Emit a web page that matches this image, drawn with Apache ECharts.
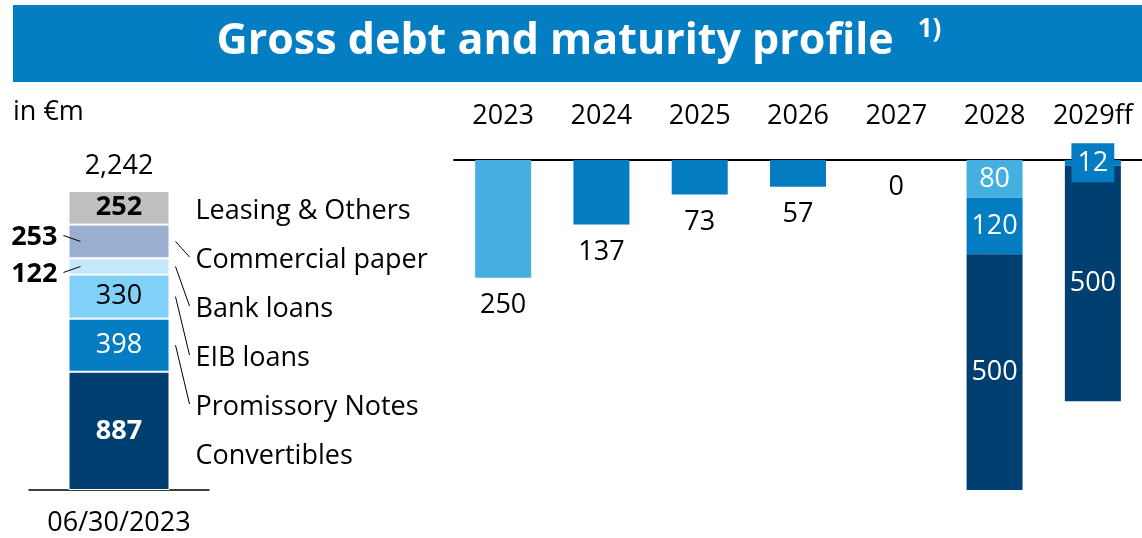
<!DOCTYPE html>
<html>
<head>
<meta charset="utf-8">
<script src="https://cdn.jsdelivr.net/npm/echarts@6/dist/echarts.min.js"></script>
<style>
  html, body { margin: 0; padding: 0; background: #fff; }
  #chart { width: 1142px; height: 538px; }
</style>
</head>
<body>
<div id="chart"></div>
<script>
// Gross debt composition at the reporting date (bottom to top)
const debtDate = ['06/30/2023'];
const segNames = ['Convertibles', 'Promissory Notes', 'EIB loans', 'Bank loans', 'Commercial paper', 'Leasing & Others'];
const segValues = [887, 398, 330, 122, 253, 252];

// Maturity profile by year
const years = ['2023', '2024', '2025', '2026', '2027', '2028', '2029ff'];
const matLight = [250, '-', '-', '-', '-', 80, '-'];
const matBlue = ['-', 137, 73, 57, 0, 120, 12];
const matNavy = ['-', '-', '-', '-', '-', 500, 500];

const FONT = '"Open Sans", Lato, sans-serif';
const FS = 27;
const C_NAVY = '#003f6f';
const C_BLUE = '#037cc1';
const C_SKY = '#45b0e0';

const segColors = [C_NAVY, C_BLUE, '#80d0f8', '#c4e7fb', '#9aaecf', '#bfbfbf'];
const segLabel = [
  { show: true, position: 'inside', color: '#fff', fontWeight: 'bold' },
  { show: true, position: 'inside', color: '#fff' },
  { show: true, position: 'inside', color: '#000' },
  { show: true, position: 'left', distance: 11, offset: [0, 8], color: '#000', fontWeight: 'bold' },
  { show: true, position: 'left', distance: 11, offset: [0, -4], color: '#000', fontWeight: 'bold' },
  { show: true, position: 'inside', color: '#000', fontWeight: 'bold' }
];

const LEFT_W = 101;
const RIGHT_W = 56;

const leftSeries = segValues.map((v, i) => ({
  name: segNames[i],
  type: 'bar',
  stack: 'debt',
  xAxisIndex: 0,
  yAxisIndex: 0,
  barWidth: LEFT_W,
  data: [v],
  itemStyle: { color: segColors[i], borderColor: '#fff', borderWidth: 1 },
  label: Object.assign({ fontFamily: FONT, fontSize: FS }, segLabel[i]),
  silent: true
}));

// labels under single bars sit below in black; labels in stacked columns sit inside in white
function matItems(values, stackedIdx) {
  return values.map((v, i) => {
    if (v === '-') return '-';
    const stacked = stackedIdx.indexOf(i) >= 0;
    return {
      value: v,
      label: stacked
        ? { show: true, position: 'inside', color: '#fff' }
        : { show: true, position: 'bottom', distance: 14, color: '#000' }
    };
  });
}

const blueItems = matItems(matBlue, [5]);
// the small 2029ff tranche gets a boxed label
blueItems[6] = {
  value: matBlue[6],
  label: { show: true, position: 'inside', color: '#fff', backgroundColor: C_BLUE, padding: [7, 6, 5, 6] }
};

const rightSeries = [
  { data: matItems(matLight, [5]), color: C_SKY },
  { data: blueItems, color: C_BLUE },
  { data: matItems(matNavy, [5, 6]), color: C_NAVY }
].map(s => ({
  type: 'bar',
  stack: 'maturity',
  xAxisIndex: 1,
  yAxisIndex: 1,
  barWidth: RIGHT_W,
  data: s.data,
  itemStyle: { color: s.color },
  label: { fontFamily: FONT, fontSize: FS },
  silent: true
}));

const chart = echarts.init(document.getElementById('chart'), null, { renderer: 'canvas' });

const option = {
  animation: false,
  textStyle: { fontFamily: FONT },
  grid: [
    { left: 29, top: 191, width: 180, height: 299 },
    { left: 454, top: 160, width: 691, height: 330 }
  ],
  xAxis: [
    {
      gridIndex: 0, type: 'category', data: debtDate,
      axisLine: { lineStyle: { color: '#000', width: 1.5 } },
      axisTick: { show: false },
      axisLabel: { color: '#000', fontFamily: FONT, fontSize: FS, margin: 20 }
    },
    {
      gridIndex: 1, type: 'category', data: years, position: 'top',
      axisLine: { lineStyle: { color: '#000', width: 2 } },
      axisTick: { show: false },
      axisLabel: { color: '#000', fontFamily: FONT, fontSize: FS, margin: 30, interval: 0 }
    }
  ],
  yAxis: [
    { gridIndex: 0, type: 'value', min: 0, max: segValues.reduce((a, b) => a + b, 0), show: false },
    { gridIndex: 1, type: 'value', min: 0, max: 700, inverse: true, show: false }
  ],
  series: leftSeries.concat(rightSeries)
};

chart.setOption(option);

// annotations placed from the left column's own scale
const total = segValues.reduce((a, b) => a + b, 0);
const graphics = [];

// title banner
graphics.push({
  type: 'rect', shape: { x: 13, y: 5, width: 1129, height: 77 },
  style: { fill: '#047ec3' }, z: 0
});
graphics.push({
  type: 'text', x: 579, y: 42, z: 10,
  style: {
    text: '{m|Gross debt and maturity profile}{s|1)}',
    align: 'center', verticalAlign: 'middle',
    rich: {
      m: { fontFamily: FONT, fontWeight: 'bold', fontSize: 43, fill: '#fff', lineHeight: 50 },
      s: { fontFamily: FONT, fontWeight: 'bold', fontSize: 26, fill: '#fff', verticalAlign: 'top', lineHeight: 34, padding: [0, 0, 0, 24] }
    }
  }
});

graphics.push({
  type: 'text', x: 13, y: 112, z: 10,
  style: { text: 'in €m', fontFamily: FONT, fontSize: FS, fill: '#000', verticalAlign: 'middle' }
});

const topPt = chart.convertToPixel({ xAxisIndex: 0, yAxisIndex: 0 }, [0, total]);
graphics.push({
  type: 'text', x: topPt[0], y: topPt[1] - 25, z: 10,
  style: { text: total.toLocaleString('en-US'), fontFamily: FONT, fontSize: FS, fill: '#000', align: 'center', verticalAlign: 'middle' }
});

const barRight = topPt[0] + LEFT_W / 2;
const barLeft = topPt[0] - LEFT_W / 2;
const legendX = barRight + 26;
const legendTop = 211;
const legendStep = 49;

let acc = 0;
const mids = segValues.map(v => { const m = acc + v / 2; acc += v; return m; });
const midPx = mids.map(m => chart.convertToPixel({ xAxisIndex: 0, yAxisIndex: 0 }, [0, m])[1]);

const n = segNames.length;
for (let i = 0; i < n; i++) {
  const row = n - 1 - i; // top segment first
  const ty = legendTop + row * legendStep;
  graphics.push({
    type: 'text', x: legendX, y: ty, z: 10,
    style: { text: segNames[i], fontFamily: FONT, fontSize: FS, fill: '#000', verticalAlign: 'middle' }
  });
  if (i > 0 && i < n - 1) {
    graphics.push({
      type: 'line', z: 10,
      shape: { x1: barRight + 6, y1: midPx[i], x2: legendX - 6, y2: ty - 3 },
      style: { stroke: '#000', lineWidth: 1 }
    });
  }
}

// short leaders for the labels outside the column
[[3, 6], [4, -6]].forEach(([i, dy]) => {
  graphics.push({
    type: 'line', z: 10,
    shape: { x1: barLeft + 12, y1: midPx[i], x2: barLeft - 5, y2: midPx[i] + dy },
    style: { stroke: '#000', lineWidth: 1 }
  });
});

chart.setOption({ graphic: graphics });
</script>
</body>
</html>
